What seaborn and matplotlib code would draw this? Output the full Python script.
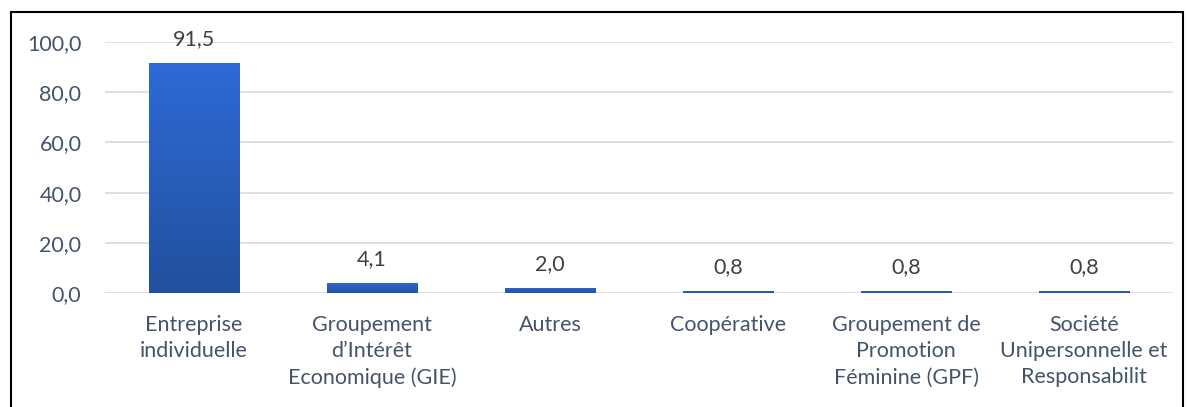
import matplotlib
matplotlib.use("Agg")
import matplotlib.pyplot as plt
import numpy as np
import pandas as pd
import seaborn as sns
from matplotlib.patches import Rectangle

categories = [
    "Entreprise\nindividuelle",
    "Groupement\nd’Intérêt\nEconomique (GIE)",
    "Autres",
    "Coopérative",
    "Groupement de\nPromotion\nFéminine (GPF)",
    "Société\nUnipersonnelle et\nResponsabilit",
]
values = [91.5, 4.1, 2.0, 0.8, 0.8, 0.8]
y_ticks = [0, 20, 40, 60, 80, 100]

TEXT = "#44546a"
FONT = ["Lato", "DejaVu Sans"]
FS = 15.5

sns.set_theme(style="white")
plt.rcParams["font.family"] = FONT

df = pd.DataFrame({"cat": categories, "val": values})

fig = plt.figure(figsize=(11.87, 4.07), dpi=100)
ax = fig.add_axes([105 / 1187, 1 - 293 / 407, 1068 / 1187, 251 / 407])

sns.barplot(data=df, x="cat", y="val", color="#2a5fc4", width=0.506,
            saturation=1, ax=ax, zorder=3)

# vertical gradient on the bars
grad = np.linspace(0, 1, 256).reshape(-1, 1)
cmap = matplotlib.colors.LinearSegmentedColormap.from_list("g", ["#22509e", "#2e6ad6"])
for p in ax.patches:
    x0, y0 = p.get_x(), p.get_y()
    w, h = p.get_width(), p.get_height()
    im = ax.imshow(grad, extent=[x0, x0 + w, y0, y0 + h], origin="lower",
                   cmap=cmap, aspect="auto", zorder=4)
    im.set_clip_path(p)
    p.set_facecolor("none")

for i, v in enumerate(values):
    ax.text(i, v + 5.5, f"{v:.1f}".replace(".", ","), ha="center", va="bottom",
            fontsize=FS, color="#404040", zorder=5)

ax.set_xlim(-0.5, len(categories) - 0.5)
ax.set_ylim(0, 100)
ax.set_yticks(y_ticks)
ax.set_yticklabels([f"{t:.1f}".replace(".", ",") for t in y_ticks])
ax.yaxis.grid(True, color="#d9d9d9", linewidth=1.2, zorder=0)
ax.set_axisbelow(True)
for s in ax.spines.values():
    s.set_visible(False)
ax.tick_params(axis="y", length=0, pad=17, labelsize=FS, labelcolor=TEXT)
ax.tick_params(axis="x", length=0, pad=16, labelsize=FS, labelcolor=TEXT)
for lab in ax.get_xticklabels():
    lab.set_linespacing(1.38)
ax.set_xlabel("")
ax.set_ylabel("")

# outer frame
fig.patches.append(Rectangle((11 / 1187, -0.05), (1183 - 11) / 1187, 1.05 - 12 / 407,
                             transform=fig.transFigure, fill=False,
                             edgecolor="black", linewidth=1.5))

fig.savefig("out.png", dpi=100)
